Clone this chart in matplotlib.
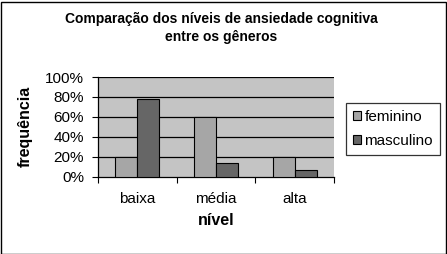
import numpy as np
import matplotlib
matplotlib.use('Agg')
import matplotlib.pyplot as plt
from matplotlib.patches import Rectangle

categorias = ['baixa', 'média', 'alta']
feminino = [20, 60, 20]
masculino = [78, 14, 7]
series = ['feminino', 'masculino']

plt.rcParams['font.family'] = ['Liberation Sans', 'DejaVu Sans']

W, H = 447, 254
fig = plt.figure(figsize=(W / 100, H / 100), dpi=100)
ax = fig.add_axes([98 / W, 1 - 176.7 / H, (334 - 98) / W, (176.7 - 77) / H])
ax.set_facecolor('#c4c4c4')

x = np.arange(len(categorias))
bw = 0.28
b1 = ax.bar(x - bw / 2, feminino, bw, color='#a6a6a6', edgecolor='black', lw=0.8,
            label=series[0], zorder=3)
b2 = ax.bar(x + bw / 2, masculino, bw, color='#666666', edgecolor='black', lw=0.8,
            label=series[1], zorder=3)

ax.set_xlim(-0.5, 2.5)
ax.set_ylim(0, 100)
ax.set_yticks(range(0, 101, 20))
ax.set_yticklabels([f'{v}%' for v in range(0, 101, 20)], fontsize=11)
for v in range(20, 101, 20):
    ax.axhline(v, color='black', lw=0.9, zorder=1)

ax.set_xticks(x)
ax.set_xticklabels(categorias, fontsize=11)
ax.set_xticks([-0.5, 0.5, 1.5, 2.5], minor=True)
ax.tick_params(axis='x', which='major', length=0, pad=11)
ax.tick_params(axis='x', which='minor', length=4, direction='out', width=0.8)
ax.tick_params(axis='y', length=4, direction='out', width=0.8, pad=6)

for s in ['top', 'right']:
    ax.spines[s].set_visible(False)
for s in ['left', 'bottom']:
    ax.spines[s].set_linewidth(0.9)

ax.set_xlabel('nível', fontsize=11.5, fontweight='bold', labelpad=5)
ax.set_ylabel('frequência', fontsize=11.5, fontweight='bold', labelpad=9)

fig.text(221 / W, 1 - 28 / H, 'Comparação dos níveis de ansiedade cognitiva\nentre os gêneros',
         ha='center', va='center', fontsize=10, fontweight='bold', linespacing=1.45)

leg = fig.legend(handles=[b1, b2], loc='upper left',
                 bbox_to_anchor=(346 / W, 1 - 103 / H), fontsize=11,
                 frameon=True, fancybox=False, edgecolor='black',
                 handlelength=0.5, handleheight=0.5, handletextpad=0.25,
                 labelspacing=0.65, borderpad=0.45, borderaxespad=0)
leg.get_frame().set_linewidth(0.9)

fig.patches.append(Rectangle((0.5 / W, 0.5 / H), 1 - 2 / W, 1 - 2 / H,
                             transform=fig.transFigure, fill=False,
                             edgecolor='black', lw=1))

fig.savefig('out.png', dpi=100)
